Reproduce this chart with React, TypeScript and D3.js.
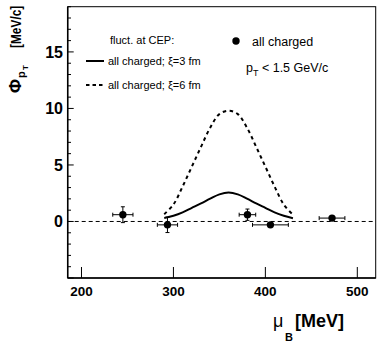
import React from "react";
import * as d3 from "d3";

// Data points: baryochemical potential (MeV), Phi_pT (MeV/c), errors
const muB = [245, 293.5, 380.5, 405.5, 472.5];
const phi = [0.6, -0.3, 0.6, -0.3, 0.3];
const muErr = [11, 11, 9, 19.5, 14];
const phiErr = [0.7, 0.68, 0.5, 0.15, 0.2];

// CEP fluctuation curves
const curveMu = [290, 300, 310, 320, 330, 340, 350, 360, 370, 380, 390, 400, 410, 420, 430];
const xi3 = [0.3, 0.5, 0.8, 1.2, 1.6, 2.02, 2.4, 2.56, 2.4, 2.02, 1.6, 1.2, 0.8, 0.5, 0.28];
const xi6 = [0.65, 1.5, 3.1, 4.85, 6.6, 8.3, 9.5, 9.8, 9.5, 8.3, 6.6, 4.85, 3.1, 1.5, 0.6];

const xTicks = [200, 300, 400, 500];
const yMajor = [0, 5, 10, 15];
const yMinor = d3.range(-5, 20, 1);

const W = 382;
const H = 349;
const L = 67.7, R = 375.7, T = 6.7, B = 278;
const FONT = "'Liberation Sans', Arial, Helvetica, sans-serif";

export default function App() {
  const x = d3.scaleLinear().domain([185, 520]).range([L, R]);
  const y = d3.scaleLinear().domain([-5, 19]).range([B, T]);

  const line = d3
    .line<[number, number]>()
    .x((d) => x(d[0]))
    .y((d) => y(d[1]))
    .curve(d3.curveCatmullRom.alpha(0.5));

  const solidPath = line(curveMu.map((m, i) => [m, xi3[i]]) as [number, number][]) || "";
  const dashPath = line(curveMu.map((m, i) => [m, xi6[i]]) as [number, number][]) || "";

  return (
    <svg
      width={W}
      height={H}
      style={{ position: "absolute", left: 0, top: 0, background: "#fff" }}
      fontFamily={FONT}
    >
      <rect x={0} y={0} width={W} height={H} fill="#fff" />
      {/* frame */}
      <rect x={L} y={T} width={R - L} height={B - T} fill="none" stroke="#000" strokeWidth={1} />
      <line x1={L} x2={L} y1={T} y2={B} stroke="#000" strokeWidth={1.5} />
      <line x1={L} x2={R} y1={B} y2={B} stroke="#000" strokeWidth={1.5} />

      {/* y ticks */}
      {yMinor.map((v) => (
        <line
          key={"ym" + v}
          x1={L}
          x2={L + (v % 5 === 0 ? 6 : 3.3)}
          y1={y(v)}
          y2={y(v)}
          stroke="#000"
          strokeWidth={1}
        />
      ))}
      {yMajor.map((v) => (
        <text
          key={"yl" + v}
          x={63}
          y={y(v) + 5.8}
          textAnchor="end"
          fontSize={16}
          fontWeight="bold"
        >
          {v}
        </text>
      ))}

      {/* x ticks */}
      {xTicks.map((v) => (
        <g key={"xt" + v}>
          <line x1={x(v)} x2={x(v)} y1={B} y2={B - 11} stroke="#000" strokeWidth={1} />
          <text x={x(v)} y={296} textAnchor="middle" fontSize={13.5} fontWeight="bold">
            {v}
          </text>
        </g>
      ))}

      {/* zero line */}
      <line
        x1={L}
        x2={R}
        y1={y(0)}
        y2={y(0)}
        stroke="#000"
        strokeWidth={1}
        strokeDasharray="4,3"
      />

      {/* curves */}
      <path d={solidPath} fill="none" stroke="#000" strokeWidth={2} />
      <path d={dashPath} fill="none" stroke="#000" strokeWidth={2} strokeDasharray="3.5,3.5" />

      {/* data points */}
      {muB.map((m, i) => {
        const cx = x(m);
        const cy = y(phi[i]);
        const x0 = x(m - muErr[i]);
        const x1 = x(m + muErr[i]);
        const y0 = y(phi[i] - phiErr[i]);
        const y1 = y(phi[i] + phiErr[i]);
        return (
          <g key={"p" + i} stroke="#000" strokeWidth={1}>
            <line x1={x0} x2={x1} y1={cy} y2={cy} />
            <line x1={x0} x2={x0} y1={cy - 2} y2={cy + 2} />
            <line x1={x1} x2={x1} y1={cy - 2} y2={cy + 2} />
            <line x1={cx} x2={cx} y1={y0} y2={y1} />
            <line x1={cx - 2} x2={cx + 2} y1={y0} y2={y0} />
            <line x1={cx - 2} x2={cx + 2} y1={y1} y2={y1} />
            <circle cx={cx} cy={cy} r={3.7} fill="#000" stroke="none" />
          </g>
        );
      })}

      {/* left legend */}
      <text x={110} y={43.5} fontSize={11}>
        fluct. at CEP:
      </text>
      <line x1={86} x2={104} y1={61} y2={61} stroke="#000" strokeWidth={2} />
      <text x={108} y={64.5} fontSize={11}>
        all charged; ξ=3 fm
      </text>
      <line x1={86} x2={104} y1={85} y2={85} stroke="#000" strokeWidth={2} strokeDasharray="3.5,3" />
      <text x={108} y={88.5} fontSize={11}>
        all charged; ξ=6 fm
      </text>

      {/* right legend */}
      <circle cx={236} cy={41} r={3.7} fill="#000" />
      <text x={252} y={45.5} fontSize={12.5}>
        all charged
      </text>
      <text x={246} y={71.5} fontSize={12.5}>
        p
        <tspan dy={4} fontSize={9}>
          T
        </tspan>
        <tspan dy={-4}> &lt; 1.5 GeV/c</tspan>
      </text>

      {/* x title */}
      <text x={273} y={327} fontSize={18}>
        μ
      </text>
      <text x={285} y={341} fontSize={11} fontWeight="bold">
        B
      </text>
      <text x={295} y={327} fontSize={18} fontWeight="bold">
        [MeV]
      </text>

      {/* y title */}
      <text transform="translate(21,93) rotate(-90)" fontSize={17} fontWeight="bold">
        Φ
      </text>
      <text transform="translate(25,78) rotate(-90)" fontSize={11} fontWeight="bold">
        p
      </text>
      <text transform="translate(28,70) rotate(-90)" fontSize={8} fontWeight="bold">
        T
      </text>
      <text transform="translate(21,48) rotate(-90) scale(0.85,1)" fontSize={14} fontWeight="bold">
        [MeV/c]
      </text>
    </svg>
  );
}
